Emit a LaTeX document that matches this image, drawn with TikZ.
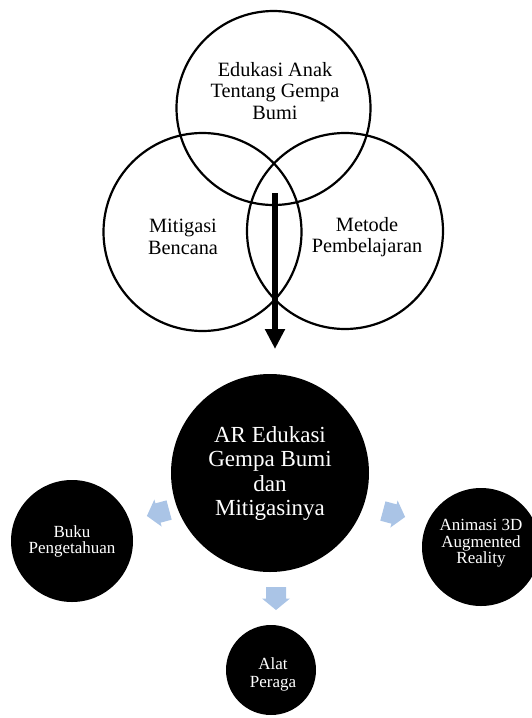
\documentclass[tikz,border=0pt]{standalone}
\usepackage{fontspec}
\setmainfont{Liberation Serif}
\usetikzlibrary{arrows.meta}
\definecolor{ablue}{RGB}{170,196,230}
\begin{document}
\begin{tikzpicture}[x=1pt,y=-1pt,
  venn/.style={circle, draw=black, line width=2.2pt, minimum size=#1, inner sep=0pt},
  vtext/.style={align=center, font=\fontsize{20.3}{21.5}\selectfont},
  bigdot/.style={circle, fill=black, minimum size=#1, inner sep=0pt},
  dottext/.style={align=center, text=white},
  smalltext/.style={dottext, font=\fontsize{17}{16.5}\selectfont},
  mainarrow/.style={line width=6pt, -{Triangle[width=19pt,length=20pt]}},
  blockarrow/.pic={\fill[ablue] (-11.5,-10) -- (0,-10) -- (0,-14) -- (11.5,0) -- (0,14) -- (0,10) -- (-11.5,10) -- cycle;}
]
\useasboundingbox (0,0) rectangle (532,718);
% Venn circles
\node[venn=194pt] (top) at (273.5,108) {};
\node[venn=198pt] (left) at (202.5,232) {};
\node[venn=196pt] (right) at (345,231) {};
\node[vtext] (toptext) at (275,91) {Edukasi Anak\\Tentang Gempa\\Bumi};
\node[vtext] (lefttext) at (183,237) {Mitigasi\\Bencana};
\node[vtext] (righttext) at (367,237) {Metode\\Pembelajaran};
% main arrow
\coordinate (astart) at (275,193);
\coordinate (aend) at (275,349);
\draw[mainarrow] (astart) -- (aend);
% black circles
\node[bigdot=198pt] (ar) at (270,473) {};
\node[dottext, font=\fontsize{23}{24.5}\selectfont] (artext) at (270,473.5) {AR Edukasi\\Gempa Bumi\\dan\\Mitigasinya};
\node[bigdot=122pt] (buku) at (72,541) {};
\node[smalltext] (bukutext) at (72,541.5) {Buku\\Pengetahuan};
\node[bigdot=118pt] (anim) at (481,547) {};
\node[smalltext] (animtext) at (481,543.5) {Animasi 3D\\Augmented\\Reality};
\node[bigdot=90pt] (alat) at (271,670) {};
\node[smalltext, font=\fontsize{17}{18}\selectfont] (alattext) at (273,674) {Alat\\Peraga};
% blue block arrows
\pic[rotate=195] at (158,513) {blockarrow};
\pic[rotate=-15] at (394,514) {blockarrow};
\pic[rotate=-90] at (276,598.5) {blockarrow};
\end{tikzpicture}
\end{document}
